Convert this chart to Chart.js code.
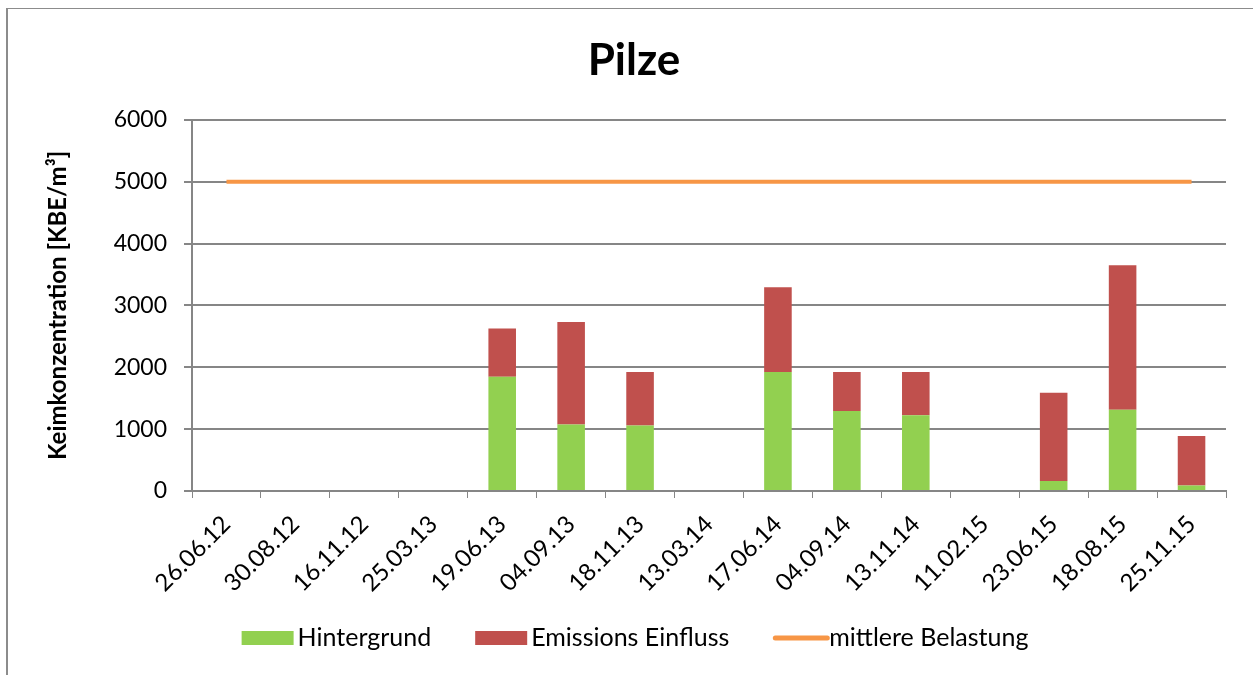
<!DOCTYPE html>
<html>
<head>
<meta charset="utf-8">
<script src="https://cdn.jsdelivr.net/npm/chart.js@4/dist/chart.umd.min.js"></script>
<style>
  html, body { margin: 0; padding: 0; background: #fff; }
  #wrap { position: relative; width: 1253px; height: 675px; overflow: hidden; }
  #frame { position: absolute; left: 6px; top: 8px; width: 1400px; height: 800px;
           border-top: 1px solid #8c8c8c; border-left: 2px solid #8c8c8c; }
  #chart { position: absolute; left: 0; top: 0; }
</style>
</head>
<body>
<div id="wrap">
  <div id="frame"></div>
  <canvas id="chart" width="1253" height="675"></canvas>
</div>
<script>
const dates = ['26.06.12', '30.08.12', '16.11.12', '25.03.13', '19.06.13', '04.09.13', '18.11.13',
  '13.03.14', '17.06.14', '04.09.14', '13.11.14', '11.02.15', '23.06.15', '18.08.15', '25.11.15'];
const hintergrund = [0, 0, 0, 0, 1845, 1075, 1060, 0, 1925, 1295, 1225, 0, 160, 1315, 90];
const emissionsEinfluss = [0, 0, 0, 0, 780, 1655, 865, 0, 1370, 630, 700, 0, 1430, 2335, 800];
const mittlereBelastung = [5000, 5000, 5000, 5000, 5000, 5000, 5000, 5000, 5000, 5000, 5000, 5000, 5000, 5000, 5000];
const legendOrder = ['Hintergrund', 'Emissions Einfluss', 'mittlere Belastung'];

const FONT = 'Lato, "Open Sans", sans-serif';
const GRID = '#868686';

// legend drawn by hand: tight box-to-text gap, centred under the chart
const bottomLegend = {
  id: 'bottomLegend',
  afterDraw(chart) {
    const ctx = chart.ctx;
    const boxW = 52, gap = 4, spacing = 44, cy = 638;
    ctx.save();
    ctx.font = '25px ' + FONT;
    ctx.textBaseline = 'middle';
    ctx.fillStyle = '#000';
    const items = legendOrder.map((name) => {
      const ds = chart.data.datasets.find((d) => d.label === name);
      return { ds, w: boxW + gap + ctx.measureText(name).width };
    });
    const total = items.reduce((s, it) => s + it.w, 0) + spacing * (items.length - 1);
    let x = 635 - total / 2;
    for (const it of items) {
      if (it.ds.type === 'line') {
        ctx.strokeStyle = it.ds.borderColor;
        ctx.lineWidth = 5;
        ctx.lineCap = 'round';
        ctx.beginPath();
        ctx.moveTo(x + 2, cy);
        ctx.lineTo(x + boxW + 2, cy);
        ctx.stroke();
      } else {
        ctx.fillStyle = it.ds.backgroundColor;
        ctx.fillRect(x, cy - 7, boxW, 14);
      }
      ctx.fillStyle = '#000';
      ctx.fillText(it.ds.label, x + boxW + gap, cy);
      x += it.w + spacing;
    }
    ctx.restore();
  },
};

const canvas = document.getElementById('chart');

new Chart(canvas, {
  data: {
    labels: dates,
    datasets: [
      {
        type: 'line',
        label: 'mittlere Belastung',
        data: mittlereBelastung,
        borderColor: '#F79646',
        backgroundColor: '#F79646',
        borderWidth: 4,
        pointRadius: 0,
        order: 0,
      },
      {
        type: 'bar',
        label: 'Hintergrund',
        data: hintergrund,
        backgroundColor: '#92D050',
        borderWidth: 0,
        stack: 's',
        order: 1,
      },
      {
        type: 'bar',
        label: 'Emissions Einfluss',
        data: emissionsEinfluss,
        backgroundColor: '#C0504D',
        borderWidth: 0,
        stack: 's',
        order: 1,
      },
    ],
  },
  plugins: [bottomLegend],
  options: {
    responsive: false,
    animation: false,
    layout: { padding: { left: 42, right: 27, top: 0, bottom: 0 } },
    datasets: {
      bar: { barPercentage: 0.4, categoryPercentage: 1.0 },
    },
    plugins: {
      title: {
        display: true,
        text: 'Pilze',
        color: '#000',
        font: { family: FONT, size: 44, weight: 'bold' },
        padding: { top: 34, bottom: 33 },
      },
      legend: { display: false },
      tooltip: { enabled: false },
    },
    scales: {
      x: {
        stacked: true,
        offset: true,
        grid: { display: true, drawOnChartArea: false, drawTicks: true, tickLength: 7, color: GRID, offset: true },
        border: { color: GRID, width: 2 },
        ticks: { color: '#000', maxRotation: 45, minRotation: 45, autoSkip: false, padding: 12,
                 font: { family: FONT, size: 24 } },
        afterFit: (scale) => { scale.height = 184; },
      },
      y: {
        stacked: true,
        min: 0,
        max: 6000,
        ticks: { stepSize: 1000, color: '#000', padding: 17, font: { family: FONT, size: 23 },
                 callback: (v) => String(v) },
        grid: { color: GRID, lineWidth: 2, tickLength: 8 },
        border: { color: GRID, width: 2 },
        title: {
          display: true,
          text: 'Keimkonzentration [KBE/m³]',
          color: '#000',
          font: { family: FONT, size: 24, weight: 'bold' },
          padding: { top: 2, bottom: 4 },
        },
        afterFit: (scale) => { scale.width = 150; },
      },
    },
  },
});
</script>
</body>
</html>
